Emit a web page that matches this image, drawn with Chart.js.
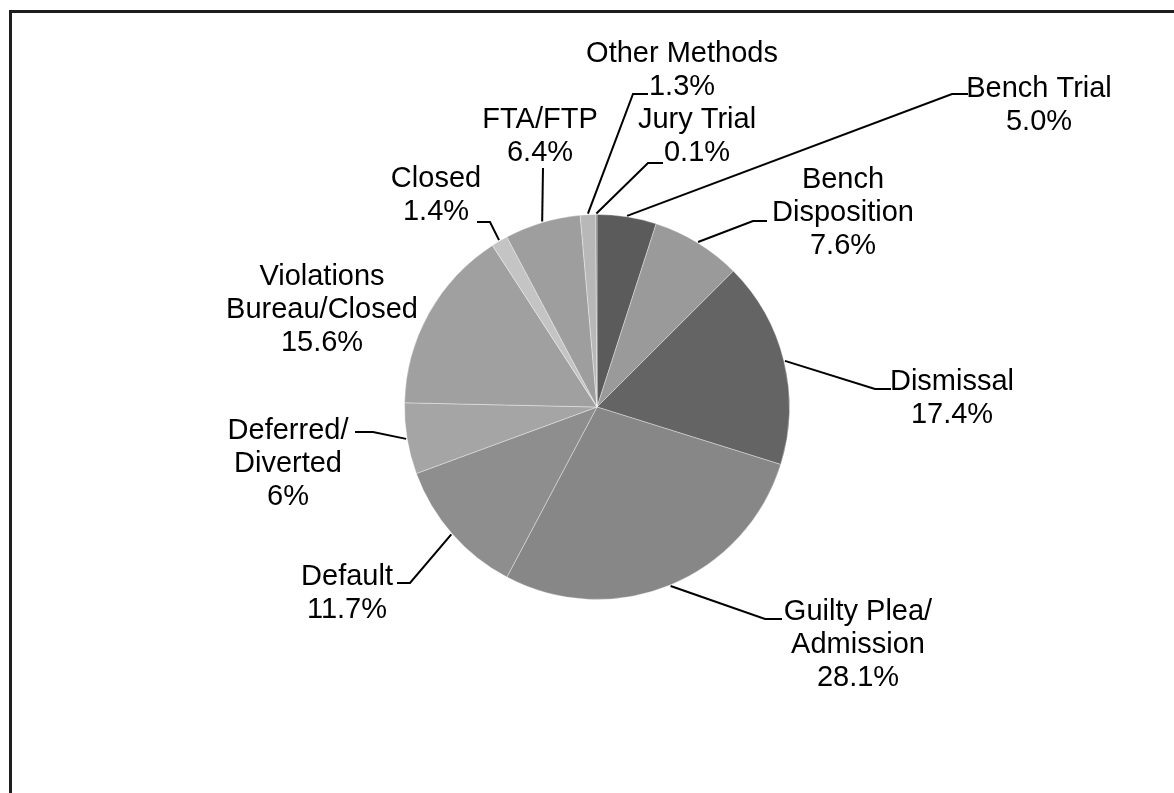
<!DOCTYPE html>
<html>
<head>
<meta charset="utf-8">
<title>Case dispositions</title>
<script src="https://cdn.jsdelivr.net/npm/chart.js@4/dist/chart.umd.min.js"></script>
<style>
    body { margin: 0; background: #fff; }
    #wrap { position: relative; width: 1174px; height: 793px; overflow: hidden; }
    #frame {
        position: absolute; left: 9px; top: 10px; width: 1200px; height: 800px;
        border-left: 3px solid #1e1e1e; border-top: 3px solid #1e1e1e;
    }
    canvas { position: absolute; left: 0; top: 0; }
</style>
</head>
<body>
<div id="wrap">
    <div id="frame"></div>
    <canvas id="pie" width="1174" height="793"></canvas>
</div>
<script>
// Categories, clockwise from 12 o'clock
const categories = [
    ['Bench Trial'],
    ['Bench', 'Disposition'],
    ['Dismissal'],
    ['Guilty Plea/', 'Admission'],
    ['Default'],
    ['Deferred/', 'Diverted'],
    ['Violations', 'Bureau/Closed'],
    ['Closed'],
    ['FTA/FTP'],
    ['Other Methods'],
    ['Jury Trial']
];
const shares = [5.0, 7.6, 17.4, 28.1, 11.7, 6, 15.6, 1.4, 6.4, 1.3, 0.1];
const shareText = ['5.0%', '7.6%', '17.4%', '28.1%', '11.7%', '6%', '15.6%', '1.4%', '6.4%', '1.3%', '0.1%'];
const sliceColors = ['#5b5b5b', '#9a9a9a', '#646464', '#878787', '#8e8e8e', '#a5a5a5',
                     '#a0a0a0', '#c4c4c4', '#9e9e9e', '#b8b8b8', '#7a7a7a'];

// Label placement, offsets from the pie centre: text centre x, first baseline y,
// leader elbow and leader end (null = no leader)
const labelLayout = [
    { x: 442, y: -310, elbow: [355, -313], end: [371, -313] },
    { x: 246, y: -219, elbow: [156, -186], end: [170, -186] },
    { x: 355, y: -17, elbow: [278, -18], end: [294, -18] },
    { x: 261, y: 213, elbow: [168, 212], end: [185, 212] },
    { x: -250, y: 178, elbow: [-187, 176], end: [-200, 176] },
    { x: -309, y: 32, elbow: [-224, 25], end: [-242, 25] },
    { x: -275, y: -122, elbow: null, end: null },
    { x: -161, y: -220, elbow: [-107, -185], end: [-120, -185] },
    { x: -57, y: -279, elbow: [-54, -239], end: [-54, -239] },
    { x: 85, y: -345, elbow: [36, -313], end: [51, -313] },
    { x: 100, y: -279, elbow: [51, -244], end: [66, -244] }
];

const LINE_GAP = 33;

const calloutPlugin = {
    id: 'callouts',
    afterDatasetsDraw(chart) {
        const ctx = chart.ctx;
        const arcs = chart.getDatasetMeta(0).data;
        ctx.save();
        ctx.font = '29px "Liberation Sans", Arial, sans-serif';
        ctx.fillStyle = '#000';
        ctx.strokeStyle = '#000';
        ctx.lineWidth = 2;
        ctx.textAlign = 'center';
        ctx.textBaseline = 'alphabetic';

        arcs.forEach(function(arc, i) {
            const p = arc.getProps(['x', 'y', 'startAngle', 'endAngle', 'outerRadius'], true);
            const cx = p.x, cy = p.y;
            const lay = labelLayout[i];

            if (lay.elbow) {
                const mid = (p.startAngle + p.endAngle) / 2;
                const r = p.outerRadius + 1;
                ctx.beginPath();
                ctx.moveTo(cx + Math.cos(mid) * r, cy + Math.sin(mid) * r);
                ctx.lineTo(cx + lay.elbow[0], cy + lay.elbow[1]);
                ctx.lineTo(cx + lay.end[0], cy + lay.end[1]);
                ctx.stroke();
            }

            const lines = categories[i].concat([shareText[i]]);
            lines.forEach(function(line, k) {
                ctx.fillText(line, cx + lay.x, cy + lay.y + k * LINE_GAP);
            });
        });
        ctx.restore();
    }
};

new Chart(document.getElementById('pie'), {
    type: 'pie',
    data: {
        labels: categories.map(c => c.join(' ')),
        datasets: [{
            data: shares,
            backgroundColor: sliceColors,
            borderColor: 'rgba(255,255,255,0.35)',
            borderWidth: 1
        }]
    },
    options: {
        responsive: false,
        animation: false,
        layout: {
            padding: { left: 404, right: 384, top: 214, bottom: 193 }
        },
        plugins: {
            legend: { display: false },
            tooltip: { enabled: false }
        }
    },
    plugins: [calloutPlugin]
});
</script>
</body>
</html>
